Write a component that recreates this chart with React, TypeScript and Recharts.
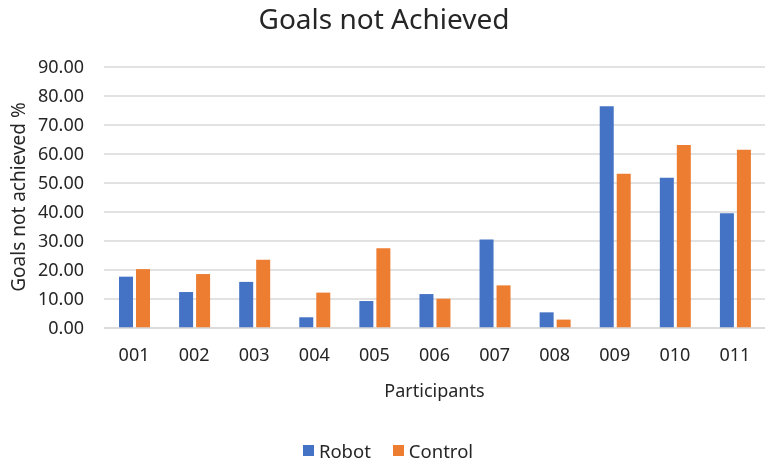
import { BarChart, Bar, XAxis, YAxis, CartesianGrid } from 'recharts';

const participants = ['001', '002', '003', '004', '005', '006', '007', '008', '009', '010', '011'];
const robot = [17.7, 12.4, 15.9, 3.7, 9.3, 11.7, 30.5, 5.4, 76.5, 51.8, 39.6];
const control = [20.3, 18.6, 23.5, 12.2, 27.5, 10.1, 14.7, 2.9, 53.2, 63.1, 61.5];
const yTicks = [0, 10, 20, 30, 40, 50, 60, 70, 80, 90];

const BLUE = '#4472c4';
const ORANGE = '#ed7d31';
const TEXT = '#262626';
const FONT = '"Noto Sans", sans-serif';

const data = participants.map((p, i) => ({ name: p, robot: robot[i], control: control[i] }));

const legendItems = [
  { label: 'Robot', color: BLUE },
  { label: 'Control', color: ORANGE },
];

export default function App() {
  return (
    <div style={{ position: 'fixed', left: 0, top: 0, width: 768, height: 464, background: '#fff', fontFamily: FONT }}>
      <div
        style={{
          position: 'absolute',
          top: -1,
          width: 768,
          textAlign: 'center',
          fontSize: 28,
          color: TEXT,
        }}
      >
        Goals not Achieved
      </div>
      <div
        style={{
          position: 'absolute',
          left: 18,
          top: 197,
          transform: 'translate(-50%, -50%) rotate(-90deg)',
          whiteSpace: 'nowrap',
          fontSize: 19,
          color: TEXT,
        }}
      >
        Goals not achieved %
      </div>
      <BarChart
        width={768}
        height={464}
        data={data}
        margin={{ top: 67, right: 3, bottom: 106, left: 0 }}
        barGap={3}
        barSize={14}
      >
        <CartesianGrid vertical={false} stroke="#d9d9d9" strokeWidth={1.3} />
        <XAxis
          dataKey="name"
          tickLine={false}
          axisLine={{ stroke: '#d9d9d9', strokeWidth: 1.3 }}
          tick={{ fontSize: 18, fill: TEXT, fontFamily: FONT }}
          tickMargin={14}
          label={{ value: 'Participants', position: 'bottom', offset: 26, fontSize: 18, fill: TEXT, fontFamily: FONT }}
        />
        <YAxis
          domain={[0, 90]}
          ticks={yTicks}
          interval={0}
          width={104}
          tickLine={false}
          axisLine={false}
          tickMargin={14}
          tickFormatter={(v: number) => v.toFixed(2)}
          tick={{ fontSize: 18, fill: TEXT, fontFamily: FONT }}
        />
        <Bar dataKey="robot" name="Robot" fill={BLUE} isAnimationActive={false} />
        <Bar dataKey="control" name="Control" fill={ORANGE} isAnimationActive={false} />
      </BarChart>
      <div
        style={{
          position: 'absolute',
          top: 438,
          width: 768,
          display: 'flex',
          justifyContent: 'center',
          gap: 22,
          fontSize: 18.5,
          color: TEXT,
          paddingLeft: 4,
        }}
      >
        {legendItems.map((it) => (
          <span key={it.label} style={{ display: 'flex', alignItems: 'center', gap: 5 }}>
            <span style={{ display: 'inline-block', width: 11, height: 11, background: it.color }} />
            {it.label}
          </span>
        ))}
      </div>
    </div>
  );
}
